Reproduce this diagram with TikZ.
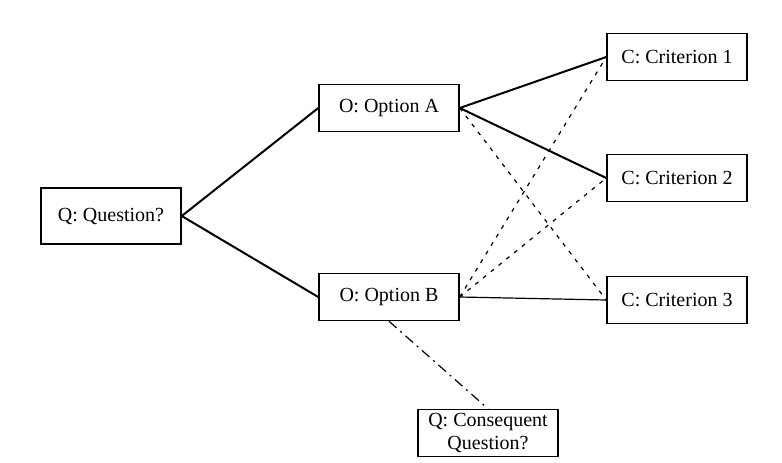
\documentclass[tikz,border=0pt]{standalone}
\usepackage{fontspec}
\setmainfont{Liberation Serif}
\usetikzlibrary{positioning}

\begin{document}
\begin{tikzpicture}[
    x=0.5pt, y=-0.5pt,
    box/.style={draw, line width=0.75pt, minimum width=70pt, minimum height=23.5pt, inner sep=2pt, font=\fontsize{10}{11.5}\selectfont, align=center},
    strong/.style={line width=1pt},
    weak/.style={line width=0.6pt, dash pattern=on 2pt off 3pt},
    plain/.style={line width=0.6pt},
    follow/.style={line width=0.6pt, dash pattern=on 5pt off 2.5pt on 1pt off 2.5pt}
]
    \useasboundingbox (0,0) rectangle (782,462);

    \node[box, minimum height=28pt] (q) at (111,216) {Q: Question?};
    \node[box] (oa) at (389,108) {O: Option A};
    \node[box] (ob) at (389,297) {O: Option B};
    \node[box] (c1) at (677,57) {C: Criterion 1};
    \node[box] (c2) at (677,178) {C: Criterion 2};
    \node[box] (c3) at (677,300) {C: Criterion 3};
    \node[box, inner sep=1pt] (cq) at (488,433) {Q: Consequent\\Question?};

    \draw[strong] (q.east) -- (oa.west);
    \draw[strong] (q.east) -- (ob.west);

    \draw[strong] (oa.east) -- (c1.west);
    \draw[strong] (oa.east) -- (c2.west);
    \draw[weak] (oa.east) -- (c3.west);

    \draw[weak] (ob.east) -- (c1.west);
    \draw[weak] (ob.east) -- (c2.west);
    \draw[plain] (ob.east) -- (c3.west);

    \draw[follow] (ob.south) -- (cq.north);
\end{tikzpicture}
\end{document}
